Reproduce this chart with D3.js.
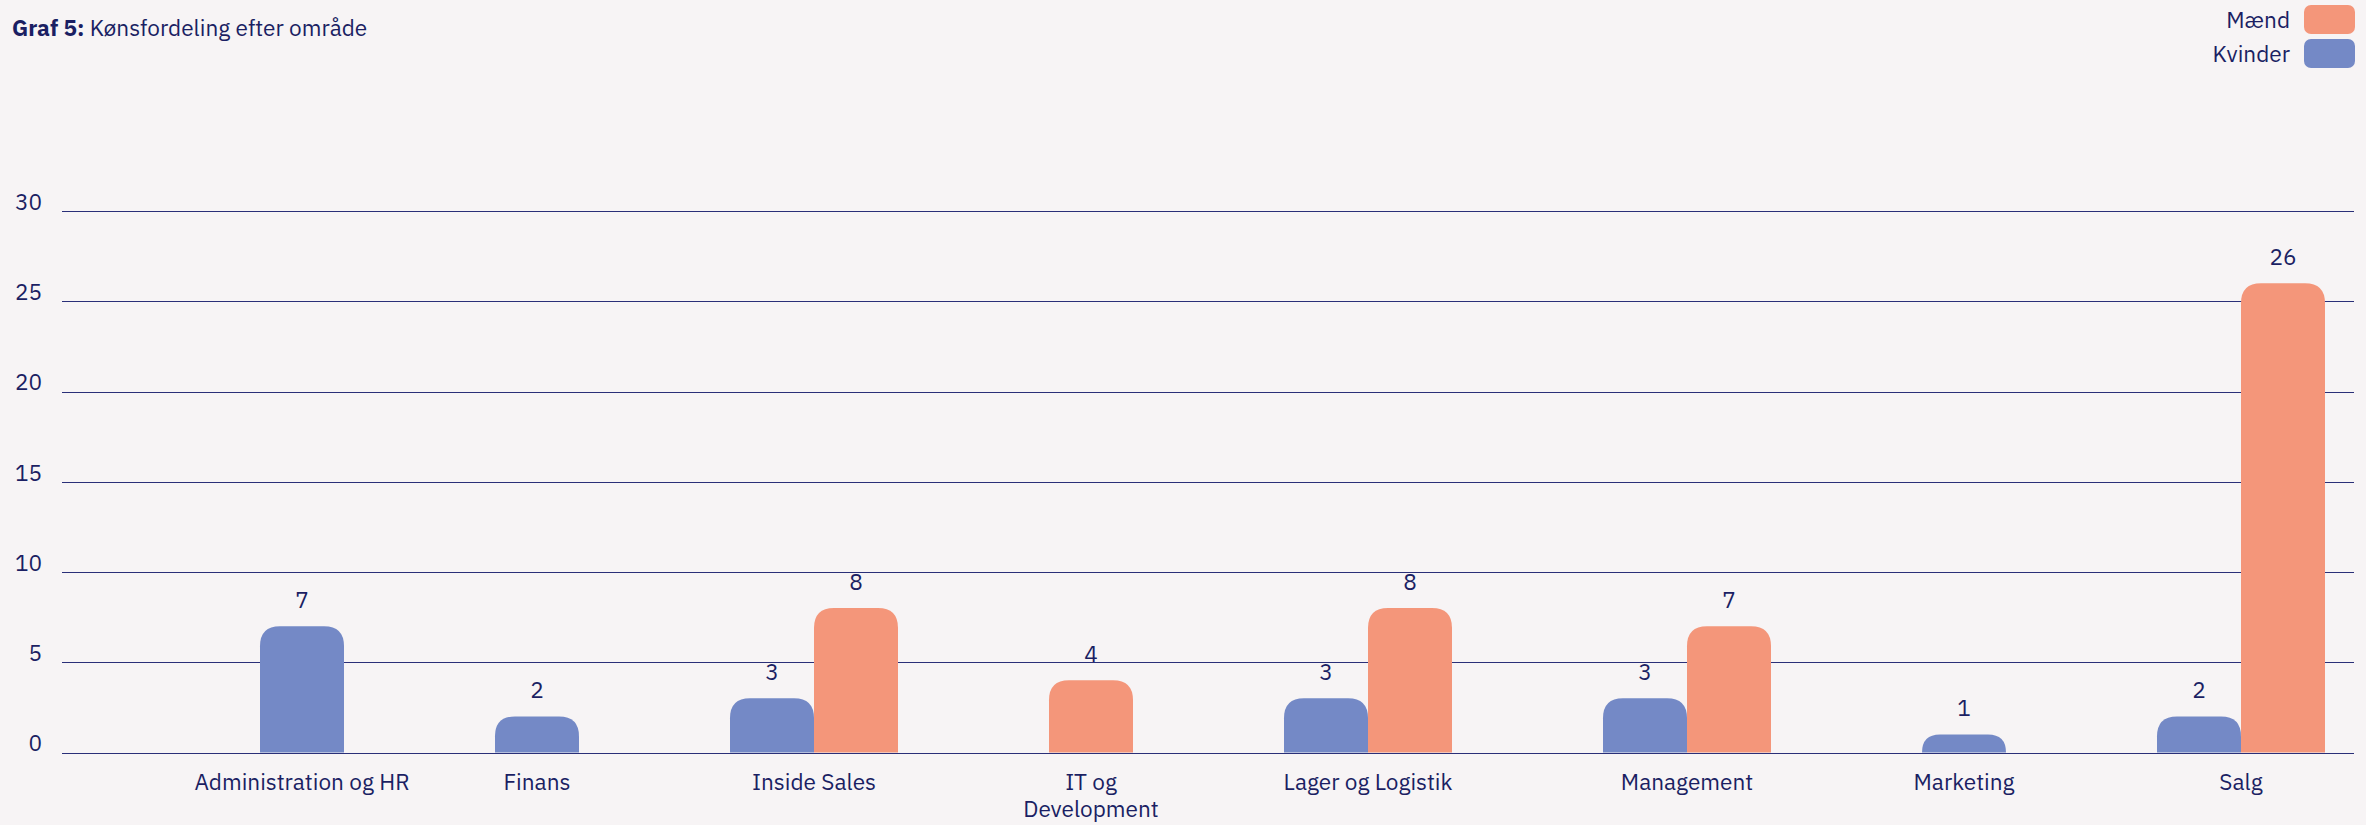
<!DOCTYPE html>
<html lang="da">
<head>
<meta charset="UTF-8">
<title>Graf 5: Kønsfordeling efter område</title>
<script src="https://d3js.org/d3.v7.min.js"></script>
<style>
  html, body { margin: 0; padding: 0; background: #f7f4f5; }
  body { font-family: "IBM Plex Sans", Roboto, "Noto Sans", Arial, sans-serif; }
  svg { display: block; }
  text { fill: #1b1f63; font-size: 22.6px; }
</style>
</head>
<body>
<svg width="2366" height="825"></svg>
<script>
// data
const categories = ["Administration og HR", "Finans", "Inside Sales", "IT og Development",
                    "Lager og Logistik", "Management", "Marketing", "Salg"];
const tickLabels = [["Administration og HR"], ["Finans"], ["Inside Sales"], ["IT og", "Development"],
                    ["Lager og Logistik"], ["Management"], ["Marketing"], ["Salg"]];
const kvinder = [7, 2, 3, null, 3, 3, 1, 2];
const maend   = [null, null, 8, 4, 8, 7, null, 26];
const colors = { "Kvinder": "#7489c6", "Mænd": "#f4967a" };
const legendOrder = ["Mænd", "Kvinder"];
const yTicks = [0, 5, 10, 15, 20, 25, 30];

const svg = d3.select("svg");

const barW = 84, r = 20, groupGap = 151, xStart = 184.5;
const y = d3.scaleLinear().domain([0, 30]).range([752.5, 211]);

// each group is as wide as its bars plus a fixed gap, laid out one after another
const groups = categories.map((c, i) => {
  const present = [];
  if (kvinder[i] != null) present.push({ s: "Kvinder", v: kvinder[i] });
  if (maend[i] != null) present.push({ s: "Mænd", v: maend[i] });
  return { cat: c, present, w: groupGap + present.length * barW };
});
let acc = xStart;
groups.forEach(g => { g.cx = acc + g.w / 2; acc += g.w; });

// gridlines + y labels
const grid = svg.append("g");
grid.selectAll("line").data(yTicks).enter().append("line")
  .attr("x1", 62).attr("x2", 2354)
  .attr("y1", d => Math.round(y(d)) + 0.5).attr("y2", d => Math.round(y(d)) + 0.5)
  .attr("stroke", "#2a2f78").attr("stroke-width", 1);
grid.selectAll("text").data(yTicks).enter().append("text")
  .attr("x", 42).attr("y", d => y(d) - 7)
  .attr("text-anchor", "end").attr("dominant-baseline", "middle")
  .text(d => d);

// bars
const bars = [];
groups.forEach(g => {
  const start = g.cx - g.present.length * barW / 2;
  g.present.forEach((p, j) => bars.push({ cat: g.cat, s: p.s, v: p.v, x0: start + j * barW }));
});

function barPath(d) {
  const x0 = d.x0, x1 = d.x0 + barW, y0 = y(0), yt = y(d.v);
  const rr = Math.min(r, (y0 - yt));
  return `M${x0},${y0}V${yt + rr}Q${x0},${yt} ${x0 + rr},${yt}H${x1 - rr}Q${x1},${yt} ${x1},${yt + rr}V${y0}Z`;
}

svg.append("g").selectAll("path").data(bars).enter().append("path")
  .attr("d", barPath)
  .attr("fill", d => colors[d.s]);

svg.append("g").selectAll("text").data(bars).enter().append("text")
  .attr("x", d => d.x0 + barW / 2)
  .attr("y", d => y(d.v) - 18)
  .attr("text-anchor", "middle")
  .text(d => d.v);

// category labels
const xl = svg.append("g").selectAll("text").data(groups).enter().append("text")
  .attr("x", d => d.cx).attr("y", 790)
  .attr("text-anchor", "middle");
xl.each(function(d, i) {
  d3.select(this).selectAll("tspan").data(tickLabels[i]).enter().append("tspan")
    .attr("x", d.cx).attr("dy", (t, k) => k === 0 ? 0 : 27)
    .text(t => t);
});

// title
const title = svg.append("text").attr("x", 12).attr("y", 36);
title.append("tspan").style("font-weight", "bold").text("Graf 5:");
title.append("tspan").text(" Kønsfordeling efter område");

// legend
const lg = svg.append("g").selectAll("g").data(legendOrder).enter().append("g")
  .attr("transform", (d, i) => `translate(2304,${5 + i * 34})`);
lg.append("rect").attr("width", 51).attr("height", 29).attr("rx", 7)
  .attr("fill", d => colors[d]);
lg.append("text").attr("x", -14).attr("y", 23)
  .attr("text-anchor", "end")
  .text(d => d);
</script>
</body>
</html>
